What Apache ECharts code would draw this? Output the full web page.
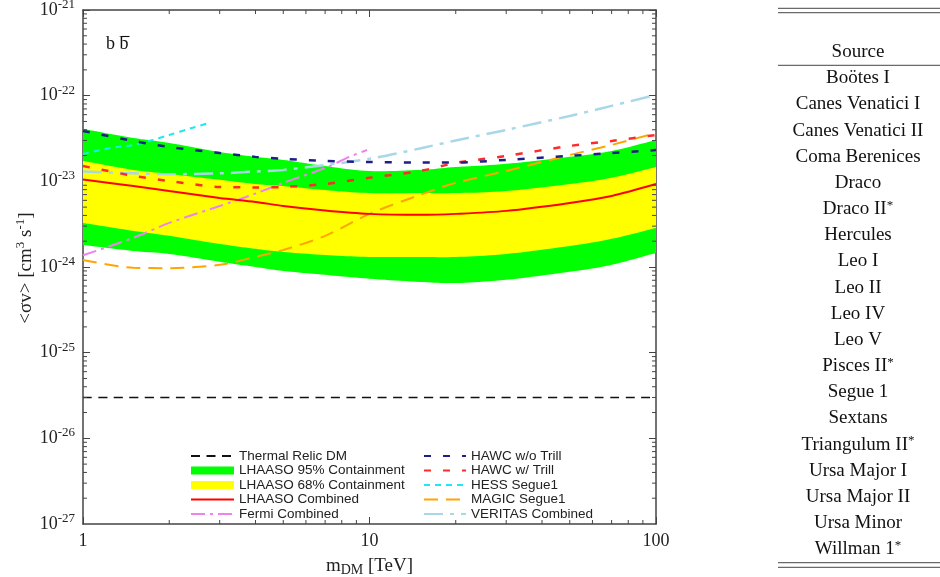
<!DOCTYPE html>
<html>
<head>
<meta charset="utf-8">
<script src="https://cdn.jsdelivr.net/npm/echarts@6/dist/echarts.min.js"></script>
<style>
html,body{margin:0;padding:0;background:#fff;}
#chart{width:940px;height:577px;}
</style>
</head>
<body>
<div id="chart"></div>
<script>
// ---------- data ----------
const massGrid        = [1, 1.5, 2, 3, 4, 5, 7, 10, 15, 20, 30, 50, 70, 100]; // TeV
const band95Upper     = [4.09e-23, 3.21e-23, 2.81e-23, 2.20e-23, 1.93e-23, 1.78e-23, 1.51e-23, 1.32e-23, 1.36e-23, 1.47e-23, 1.60e-23, 1.93e-23, 2.26e-23, 3.04e-23];
const band68Upper     = [1.73e-23, 1.36e-23, 1.22e-23, 1.04e-23, 9.3e-24, 8.8e-24, 7.9e-24, 7.3e-24, 7.3e-24, 7.3e-24, 7.7e-24, 9.3e-24, 1.10e-23, 1.47e-23];
const lhaasoCombined  = [1.05e-23, 8.8e-24, 7.7e-24, 6.4e-24, 5.75e-24, 5.16e-24, 4.57e-24, 4.17e-24, 4.06e-24, 4.17e-24, 4.52e-24, 5.6e-24, 6.76e-24, 9.3e-24];
const band68Lower     = [3.27e-24, 2.64e-24, 2.31e-24, 1.86e-24, 1.63e-24, 1.50e-24, 1.38e-24, 1.31e-24, 1.31e-24, 1.31e-24, 1.42e-24, 1.76e-24, 2.13e-24, 2.86e-24];
const band95Lower     = [1.81e-24, 1.54e-24, 1.42e-24, 1.15e-24, 1.00e-24, 9.0e-25, 8.1e-25, 7.3e-25, 6.7e-25, 6.5e-25, 7.1e-25, 8.8e-25, 1.06e-24, 1.46e-24];
const hawcNoTrill     = [3.87e-23, 2.96e-23, 2.52e-23, 2.14e-23, 1.93e-23, 1.83e-23, 1.73e-23, 1.68e-23, 1.66e-23, 1.66e-23, 1.78e-23, 1.98e-23, 2.14e-23, 2.32e-23];
const hawcTrill       = [1.51e-23, 1.16e-23, 1.01e-23, 8.6e-24, 8.5e-24, 8.6e-24, 9.3e-24, 1.10e-23, 1.32e-23, 1.64e-23, 1.98e-23, 2.59e-23, 2.96e-23, 3.48e-23];
const magicSegue1     = [1.21e-24, 9.8e-25, 9.7e-25, 1.06e-24, 1.31e-24, 1.58e-24, 2.31e-24, 4.17e-24, 6.94e-24, 9.6e-24, 1.32e-23, 2.03e-23, 2.66e-23, 3.67e-23];
const veritasCombined = [1.30e-23, 1.24e-23, 1.21e-23, 1.24e-23, 1.30e-23, 1.36e-23, 1.55e-23, 1.83e-23, 2.42e-23, 3.00e-23, 3.98e-23, 5.8e-23, 7.6e-23, 1.02e-22];
const hessMass        = [1, 1.25, 1.5, 1.75, 2, 2.4, 2.75];
const hessSegue1      = [2.09e-23, 2.45e-23, 2.66e-23, 3.04e-23, 3.48e-23, 4.20e-23, 4.80e-23];
const fermiMass       = [1, 1.5, 2, 3, 4, 5, 7, 8.5, 9.8];
const fermiCombined   = [1.37e-24, 2.19e-24, 3.27e-24, 5.16e-24, 7.2e-24, 9.6e-24, 1.43e-23, 1.93e-23, 2.32e-23];
const thermalMass     = [1, 100];
const thermalRelic    = [3e-26, 3e-26];

const xTickLabels = [1, 10, 100];
const yTickExponents = [-27, -26, -25, -24, -23, -22, -21];
const minorMultipliers = [2, 3, 4, 5, 6, 7, 8, 9];

const sourceNames = ['Boötes I', 'Canes Venatici I', 'Canes Venatici II', 'Coma Berenices', 'Draco',
  'Draco II*', 'Hercules', 'Leo I', 'Leo II', 'Leo IV', 'Leo V', 'Pisces II*', 'Segue 1', 'Sextans',
  'Triangulum II*', 'Ursa Major I', 'Ursa Major II', 'Ursa Minor', 'Willman 1*'];

// ---------- helpers ----------
const xMin = 1, xMax = 100, yMin = 1e-27, yMax = 1e-21;
const serif = '"Liberation Serif","Times New Roman",serif';
const sans = '"Liberation Sans",Arial,sans-serif';
const axisColor = '#444';

const minorX = [];
for (let d = 0; d < xTickLabels.length - 1; d++) minorMultipliers.forEach(m => minorX.push(m * xTickLabels[d]));
const minorY = [];
for (let e = yTickExponents[0]; e < yTickExponents[yTickExponents.length - 1]; e++) minorMultipliers.forEach(m => minorY.push(m * Math.pow(10, e)));

const pairs = (xs, ys) => xs.map((x, i) => [x, ys[i]]);

function lineSeries(name, xs, ys, color, width, dash, z) {
  return {
    name, type: 'line', data: pairs(xs, ys), smooth: 0.3, symbol: 'none', silent: true, z: z || 3,
    lineStyle: { color, width, type: dash || 'solid', cap: 'butt' },
    itemStyle: { color, opacity: 0 }
  };
}

// smooth outline (Catmull-Rom) through pixel points obtained from the axes
function smoothPath(pts, steps) {
  const out = [];
  const n = pts.length;
  for (let i = 0; i < n - 1; i++) {
    const p0 = pts[Math.max(i - 1, 0)], p1 = pts[i], p2 = pts[i + 1], p3 = pts[Math.min(i + 2, n - 1)];
    for (let s = 0; s < steps; s++) {
      const t = s / steps, t2 = t * t, t3 = t2 * t;
      const f = k => 0.5 * (2 * p1[k] + (-p0[k] + p2[k]) * t + (2 * p0[k] - 5 * p1[k] + 4 * p2[k] - p3[k]) * t2 + (-p0[k] + 3 * p1[k] - 3 * p2[k] + p3[k]) * t3);
      out.push([f(0), f(1)]);
    }
  }
  out.push(pts[n - 1]);
  return out;
}

function bandSeries(name, lo, hi, color) {
  return {
    name, type: 'custom', silent: true, z: 1, clip: true,
    itemStyle: { color },
    encode: { x: 0, y: [1, 2] },
    data: massGrid.map((x, i) => [x, lo[i], hi[i]]),
    renderItem: function (params, api) {
      if (params.dataIndex !== 0) return null;
      const top = massGrid.map((x, i) => api.coord([x, hi[i]]));
      const bot = massGrid.map((x, i) => api.coord([x, lo[i]]));
      const pts = smoothPath(top, 10).concat(smoothPath(bot, 10).reverse());
      return { type: 'polygon', shape: { points: pts }, style: { fill: color, stroke: null } };
    }
  };
}

function tickSeries(data, horizontal) {
  return {
    type: 'custom', silent: true, clip: false, z: 10, data,
    renderItem: function (params, api) {
      const v = horizontal ? api.value(1) : api.value(0);
      const st = { stroke: axisColor, lineWidth: 1 };
      if (!horizontal) {
        const b = api.coord([v, yMin]), t = api.coord([v, yMax]);
        return { type: 'group', children: [
          { type: 'line', shape: { x1: b[0], y1: b[1], x2: b[0], y2: b[1] - 4 }, style: st },
          { type: 'line', shape: { x1: t[0], y1: t[1], x2: t[0], y2: t[1] + 4 }, style: st }
        ] };
      }
      const l = api.coord([xMin, v]), r = api.coord([xMax, v]);
      return { type: 'group', children: [
        { type: 'line', shape: { x1: l[0], y1: l[1], x2: l[0] + 4, y2: l[1] }, style: st },
        { type: 'line', shape: { x1: r[0], y1: r[1], x2: r[0] - 4, y2: r[1] }, style: st }
      ] };
    }
  };
}

// y tick labels 10^n placed through the y scale
const yLabelSeries = {
  type: 'custom', silent: true, clip: false, z: 10,
  data: yTickExponents.map(e => [xMin, Math.pow(10, e), e]),
  renderItem: function (params, api) {
    const p = api.coord([xMin, api.value(1)]);
    const e = yTickExponents[params.dataIndex];
    return { type: 'text', x: p[0] - 8, y: p[1],
      style: { text: '10{s|' + e + '}', fontSize: 18, fontFamily: serif, fill: '#222', align: 'right', verticalAlign: 'middle',
        lineHeight: 24, rich: { s: { fontSize: 13, fontFamily: serif, verticalAlign: 'top', lineHeight: 13, fill: '#222' } } } };
  }
};

const baseX = {
  type: 'log', logBase: 10, min: xMin, max: xMax,
  axisLine: { onZero: false, lineStyle: { color: axisColor, width: 1.5 } },
  axisTick: { inside: true, length: 7, lineStyle: { color: axisColor } },
  splitLine: { show: false }
};
const baseY = {
  type: 'log', logBase: 10, min: yMin, max: yMax,
  axisLine: { onZero: false, lineStyle: { color: axisColor, width: 1.5 } },
  axisTick: { inside: true, length: 7, lineStyle: { color: axisColor } },
  axisLabel: { show: false },
  splitLine: { show: false }
};

// ---------- text / table graphics ----------
const tableX = 858, tableL = 778, tableR = 940;
const graphics = [];
const rule = (y) => ({ type: 'line', shape: { x1: tableL, y1: y, x2: tableR, y2: y }, style: { stroke: '#6a6a6a', lineWidth: 1.2 }, silent: true });
graphics.push(rule(8.3), rule(12.7), rule(65.3), rule(562.7), rule(567.3));
graphics.push({ type: 'text', x: tableX, y: 51.7, silent: true,
  style: { text: 'Source', fontSize: 19, fontFamily: serif, fill: '#111', align: 'center', verticalAlign: 'middle' } });
sourceNames.forEach((n, i) => {
  const txt = n.endsWith('*') ? n.slice(0, -1) + '{s|*}' : n;
  graphics.push({ type: 'text', x: tableX, y: 78.3 + i * 26.17, silent: true,
    style: { text: txt, fontSize: 19, fontFamily: serif, fill: '#111', align: 'center', verticalAlign: 'middle',
      lineHeight: 21, rich: { s: { fontSize: 13, fontFamily: serif, verticalAlign: 'top', lineHeight: 13, fill: '#111' } } } });
});
// y-axis title (rotated)
graphics.push({ type: 'text', x: 26, y: 268, rotation: Math.PI / 2, silent: true,
  style: { text: '<σv> [cm{s|3} s{s|-1}]', fontSize: 19, fontFamily: serif, fill: '#222', align: 'center', verticalAlign: 'middle',
    lineHeight: 24, rich: { s: { fontSize: 13, fontFamily: serif, verticalAlign: 'top', lineHeight: 13, fill: '#222' } } } });
// channel annotation
graphics.push({ type: 'text', x: 106, y: 44, silent: true,
  style: { text: 'b b', fontSize: 18, fontFamily: serif, fill: '#111', align: 'left', verticalAlign: 'middle' } });
graphics.push({ type: 'line', shape: { x1: 121, y1: 36.5, x2: 129.5, y2: 36.5 }, style: { stroke: '#111', lineWidth: 1.1 }, silent: true });

const legendCommon = {
  orient: 'vertical', padding: 0, itemGap: 0.5, itemHeight: 8, selectedMode: false,
  textStyle: { fontSize: 13.5, fontFamily: sans, color: '#222', lineHeight: 13.5 }
};

const option = {
  animation: false,
  backgroundColor: '#fff',
  grid: { left: 83, right: 284, top: 10, bottom: 53, containLabel: false, outerBoundsMode: 'none' },
  xAxis: [
    Object.assign({}, baseX, {
      position: 'bottom',
      axisLabel: { margin: 8, fontSize: 18, fontFamily: serif, color: '#222', formatter: v => String(Math.round(v)) },
      name: 'm{sub|DM} [TeV]', nameLocation: 'middle', nameGap: 22,
      nameTextStyle: { fontSize: 19, fontFamily: serif, color: '#222', lineHeight: 22,
        rich: { sub: { fontSize: 14, fontFamily: serif, verticalAlign: 'bottom', lineHeight: 14, color: '#222' } } }
    }),
    Object.assign({}, baseX, { position: 'top', axisLabel: { show: false } })
  ],
  yAxis: [
    Object.assign({}, baseY, { position: 'left' }),
    Object.assign({}, baseY, { position: 'right' })
  ],
  legend: [
    Object.assign({}, legendCommon, { left: 190, top: 449, itemWidth: 43,
      data: ['Thermal Relic DM',
        { name: 'LHAASO 95% Containment', icon: 'rect', itemStyle: { opacity: 1 } },
        { name: 'LHAASO 68% Containment', icon: 'rect', itemStyle: { opacity: 1 } },
        'LHAASO Combined', 'Fermi Combined'] }),
    Object.assign({}, legendCommon, { left: 423, top: 449, itemWidth: 42,
      data: ['HAWC w/o Trill', 'HAWC w/ Trill', 'HESS Segue1', 'MAGIC Segue1', 'VERITAS Combined'] })
  ],
  graphic: graphics,
  series: [
    bandSeries('LHAASO 95% Containment', band95Lower, band95Upper, '#00ff00'),
    bandSeries('LHAASO 68% Containment', band68Lower, band68Upper, '#ffff00'),
    lineSeries('Thermal Relic DM', thermalMass, thermalRelic, '#111111', 1.5, [9, 6.5]),
    lineSeries('Fermi Combined', fermiMass, fermiCombined, '#ee82ee', 2, [14, 5, 3, 5]),
    lineSeries('MAGIC Segue1', massGrid, magicSegue1, '#ffa500', 2, [14, 8]),
    lineSeries('VERITAS Combined', massGrid, veritasCombined, '#a8d8e8', 2.5, [19, 7, 4, 7]),
    lineSeries('HESS Segue1', hessMass, hessSegue1, '#1ee8f0', 2, [6, 5]),
    lineSeries('HAWC w/ Trill', massGrid, hawcTrill, '#ff2a2a', 2.5, [7, 12]),
    lineSeries('HAWC w/o Trill', massGrid, hawcNoTrill, '#1f1f88', 2.5, [7, 12]),
    lineSeries('LHAASO Combined', massGrid, lhaasoCombined, '#ff0000', 2, 'solid', 4),
    tickSeries(minorX.map(v => [v, yMin]), false),
    tickSeries(minorY.map(v => [xMin, v]), true),
    yLabelSeries
  ]
};

const chart = echarts.init(document.getElementById('chart'), null, { renderer: 'canvas' });
chart.setOption(option);
</script>
</body>
</html>
